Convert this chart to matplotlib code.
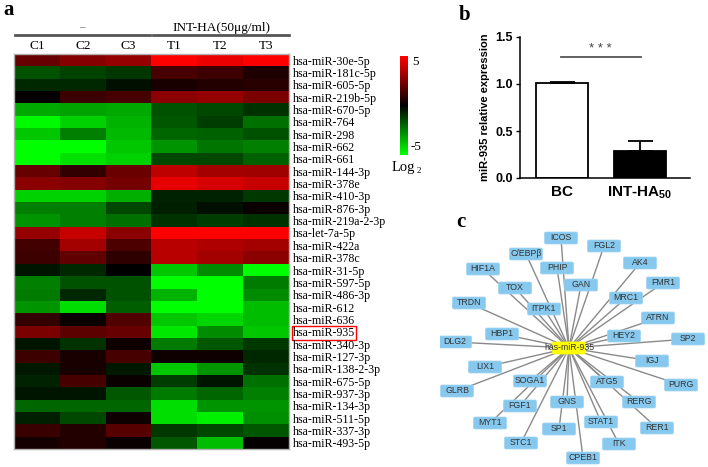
import numpy as np
import matplotlib
matplotlib.use('Agg')
import matplotlib.pyplot as plt
from matplotlib.colors import LinearSegmentedColormap
from matplotlib.patches import FancyBboxPatch
from matplotlib.lines import Line2D

plt.rcParams['mathtext.fontset'] = 'custom'
plt.rcParams['mathtext.rm'] = 'Liberation Sans:bold'
plt.rcParams['mathtext.bf'] = 'Liberation Sans:bold'
plt.rcParams['mathtext.it'] = 'Liberation Sans:bold'

W, H = 708, 467

# ---------------- data ----------------
mirnas = ['hsa-miR-30e-5p', 'hsa-miR-181c-5p', 'hsa-miR-605-5p', 'hsa-miR-219b-5p',
          'hsa-miR-670-5p', 'hsa-miR-764', 'hsa-miR-298', 'hsa-miR-662', 'hsa-miR-661',
          'hsa-miR-144-3p', 'hsa-miR-378e', 'hsa-miR-410-3p', 'hsa-miR-876-3p',
          'hsa-miR-219a-2-3p', 'hsa-let-7a-5p', 'hsa-miR-422a', 'hsa-miR-378c',
          'hsa-miR-31-5p', 'hsa-miR-597-5p', 'hsa-miR-486-3p', 'hsa-miR-612',
          'hsa-miR-636', 'hsa-miR-935', 'hsa-miR-340-3p', 'hsa-miR-127-3p',
          'hsa-miR-138-2-3p', 'hsa-miR-675-5p', 'hsa-miR-937-3p', 'hsa-miR-134-3p',
          'hsa-miR-511-5p', 'hsa-miR-337-3p', 'hsa-miR-493-5p']
samples = ['C1', 'C2', 'C3', 'T1', 'T2', 'T3']
group_labels = ['–', 'INT-HA(50μg/ml)']
highlight = 'hsa-miR-935'

log2_values = np.array([
    [2.0, 2.6, 2.9, 5.0, 4.6, 5.0],
    [-1.6, -1.3, -1.1, 1.4, 1.2, 0.6],
    [-0.8, -0.8, -0.3, 0.5, 0.7, 0.8],
    [0.1, 1.2, 1.4, 2.7, 2.9, 2.4],
    [-3.3, -3.2, -3.3, -1.6, -1.4, -1.0],
    [-4.9, -4.1, -3.5, -1.7, -1.2, -2.2],
    [-3.9, -2.5, -3.6, -2.0, -1.9, -1.6],
    [-5.0, -5.0, -3.9, -2.9, -2.3, -2.5],
    [-5.0, -4.4, -4.1, -1.4, -1.4, -1.9],
    [2.0, 1.0, 2.1, 3.7, 3.2, 3.1],
    [2.7, 2.6, 2.3, 4.5, 4.2, 3.9],
    [-4.1, -4.1, -3.4, -0.7, -0.7, -1.1],
    [-2.5, -2.5, -1.4, -0.6, -0.3, 0.2],
    [-2.9, -2.5, -2.2, -1.0, -1.2, -1.0],
    [2.9, 3.9, 2.7, 5.0, 5.0, 5.0],
    [1.3, 3.2, 1.5, 3.6, 3.4, 3.2],
    [1.2, 1.9, 0.9, 3.6, 3.2, 2.7],
    [-0.4, -0.8, 0.0, -3.9, -2.7, -5.0],
    [-2.5, -1.6, -1.6, -5.0, -5.0, -2.4],
    [-2.4, -0.8, -1.6, -3.5, -5.0, -2.7],
    [-2.9, -4.3, -1.8, -5.0, -5.0, -3.7],
    [1.0, 0.2, 1.6, -3.9, -4.2, -3.7],
    [2.4, 1.8, 2.0, -4.5, -2.7, -3.9],
    [-0.4, -1.0, 0.3, -2.4, -1.7, -1.1],
    [1.2, 0.5, 1.4, 0.3, 0.3, -0.8],
    [-0.5, 0.5, -0.5, -3.9, -2.9, -1.0],
    [-0.7, 1.4, 0.2, -1.2, -0.4, -2.2],
    [-0.4, -0.4, -1.7, -2.4, -2.0, -2.5],
    [-2.0, -2.0, -2.0, -4.3, -2.9, -2.9],
    [-0.6, -1.4, 0.3, -4.3, -4.7, -2.8],
    [1.1, 0.7, 1.7, -1.1, -1.4, -1.7],
    [0.4, 0.7, 0.2, -1.7, -3.7, 0.1],
])

bar_groups = ['BC', 'INT-HA$_{50}$']
bar_means = [1.01, 0.29]
bar_err = [0.01, 0.10]
bar_colors = ['white', 'black']
bar_yticks = [0.0, 0.5, 1.0, 1.5]
sig_level = 1.29
sig_text = '* * *'

net_center = 'has-miR-935'
net_center_xy = (569, 348)
net_genes = ['ICOS', 'FGL2', 'C/EBPβ', 'AK4', 'HIF1A', 'PHIP', 'FMR1', 'GAN', 'TOX',
             'MRC1', 'ITPK1', 'TRDN', 'ATRN', 'HBP1', 'HEY2', 'SP2', 'DLG2', 'IGJ',
             'LIX1', 'SOGA1', 'ATG5', 'PURG', 'GLRB', 'GNS', 'RERG', 'FGF1', 'STAT1',
             'MYT1', 'SP1', 'RER1', 'STC1', 'ITK', 'CPEB1']
net_x = [561, 604, 526, 640, 483, 557, 663, 581, 515, 626, 544, 469, 658, 502, 624, 688,
         455, 652, 485, 530, 607, 681, 457, 567, 639, 520, 601, 490, 559, 657, 521, 619, 583]
net_y = [238, 246, 254, 263, 269, 268, 283, 285, 288, 298, 309, 303, 318, 334, 336, 339,
         342, 361, 367, 381, 382, 385, 391, 402, 402, 406, 422, 423, 429, 428, 443, 444, 458]

# ---------------- helpers ----------------
def fx(x):
    return x / W

def fy(y):
    return 1 - y / H

def rect(x0, y0, x1, y1):
    return [fx(x0), fy(y1), (x1 - x0) / W, (y1 - y0) / H]

SERIF = 'Liberation Serif'
SANS = 'Liberation Sans'

fig = plt.figure(figsize=(W / 100, H / 100), dpi=100)
fig.patch.set_facecolor('white')

# ---------------- panel a: heatmap ----------------
cmap = LinearSegmentedColormap.from_list('gbr', [(0, 1, 0), (0, 0, 0), (1, 0, 0)])
ax = fig.add_axes(rect(14, 54, 289, 449))
ax.imshow(log2_values, cmap=cmap, vmin=-5, vmax=5, aspect='auto', interpolation='nearest')
ax.set_xticks(range(len(samples)))
ax.set_xticklabels(samples, family=SERIF, fontsize=9.5)
ax.xaxis.tick_top()
ax.set_yticks(range(len(mirnas)))
ax.set_yticklabels(mirnas, family=SERIF, fontsize=8.6)
ax.yaxis.tick_right()
ax.tick_params(length=0, pad=3)
ax.tick_params(axis='x', pad=1.5)
for s in ax.spines.values():
    s.set_color('#b0b0b0')
    s.set_linewidth(1)
for lab in ax.get_yticklabels():
    if lab.get_text() == highlight:
        lab.set_bbox(dict(facecolor='none', edgecolor='red', linewidth=1, pad=0.8))

fig.text(fx(82), fy(28), group_labels[0], family=SERIF, fontsize=8, ha='center', va='center',
         color='#555555')
fig.text(fx(221), fy(28), group_labels[1], family=SERIF, fontsize=9.5, ha='center', va='center')
fig.add_artist(Line2D([fx(15), fx(150)], [fy(35), fy(35)], color='#555555', lw=2))
fig.add_artist(Line2D([fx(153), fx(289)], [fy(35), fy(35)], color='#555555', lw=2))
fig.text(fx(3), fy(10), 'a', family=SERIF, fontsize=15, fontweight='bold', ha='left', va='center')

# colorbar
cax = fig.add_axes(rect(400, 56, 407, 155))
grad = np.linspace(5, -5, 200).reshape(-1, 1)
cax.imshow(grad, cmap=cmap, vmin=-5, vmax=5, aspect='auto', extent=[0, 1, -5, 5])
cax.set_xticks([])
cax.set_yticks([])
for s in cax.spines.values():
    s.set_visible(False)
fig.text(fx(412), fy(62), '5', family=SERIF, fontsize=9.5, ha='left', va='center')
fig.text(fx(410), fy(147), '-5', family=SERIF, fontsize=9.5, ha='left', va='center')
fig.text(fx(392), fy(168), 'Log', family=SERIF, fontsize=10.5, ha='left', va='center')
fig.text(fx(416.5), fy(171), '2', family=SERIF, fontsize=6.5, ha='left', va='center')

# ---------------- panel b: bar chart ----------------
bx = fig.add_axes(rect(520, 37, 690, 178))
xpos = np.arange(len(bar_groups))
bx.bar(xpos, bar_means, width=0.67, color=bar_colors, edgecolor='black', linewidth=1.3, zorder=2)
bx.errorbar(xpos, bar_means, yerr=[[0, 0], bar_err], fmt='none', ecolor='black',
            elinewidth=1.3, capsize=9, capthick=1.3, zorder=3)
bx.set_ylim(0, 1.5)
bx.set_xlim(-0.54, 1.65)
bx.set_yticks(bar_yticks)
bx.set_yticklabels([f'{v:.1f}' for v in bar_yticks], family=SANS, fontweight='bold', fontsize=9)
bx.set_xticks(xpos)
bx.set_xticklabels(bar_groups, family=SANS, fontweight='bold', fontsize=11)
bx.tick_params(axis='x', length=0, pad=5)
bx.tick_params(axis='y', length=3, width=1, pad=2)
for side in ['top', 'right']:
    bx.spines[side].set_visible(False)
for side in ['left', 'bottom']:
    bx.spines[side].set_linewidth(1.1)
bx.set_ylabel('miR-935 relative expression', family=SANS, fontweight='bold', fontsize=8, labelpad=4)
bx.plot([-0.01, 1.02], [sig_level, sig_level], color='#555555', lw=1.3, clip_on=False)
bx.text(0.5, sig_level + 0.02, sig_text, ha='center', va='bottom', fontsize=9.5, color='#444444', family=SANS)
fig.text(fx(459), fy(15), 'b', family=SERIF, fontsize=15, fontweight='bold', ha='left', va='center')

# ---------------- panel c: network ----------------
nx_ax = fig.add_axes(rect(440, 225, 708, 467))
nx_ax.set_xlim(440, 708)
nx_ax.set_ylim(467, 225)
nx_ax.axis('off')
cx, cy = net_center_xy
for gx, gy in zip(net_x, net_y):
    nx_ax.plot([cx, gx], [cy, gy], color='#8a8a8a', lw=1.0, zorder=1)
bw, bh = 33, 12
for g, gx, gy in zip(net_genes, net_x, net_y):
    nx_ax.add_patch(FancyBboxPatch((gx - bw / 2, gy - bh / 2), bw, bh,
                                   boxstyle='round,pad=0,rounding_size=1.5',
                                   facecolor='#87c9ee', edgecolor='#9fd3f0', lw=0.5, zorder=2))
    nx_ax.text(gx, gy, g, ha='center', va='center', fontsize=6.3, family=SANS,
               color='#333333', zorder=3)
nx_ax.add_patch(FancyBboxPatch((cx - bw / 2, cy - bh / 2), bw, bh,
                               boxstyle='round,pad=0,rounding_size=1.5',
                               facecolor='#ffff00', edgecolor='#ffff00', lw=0.5, zorder=2))
nx_ax.text(cx, cy, net_center, ha='center', va='center', fontsize=6.3, family=SANS,
           color='#333333', zorder=3)
fig.text(fx(456), fy(222), 'c', family=SERIF, fontsize=15, fontweight='bold', ha='left', va='center')

fig.savefig('out.png', dpi=100, facecolor='white')
